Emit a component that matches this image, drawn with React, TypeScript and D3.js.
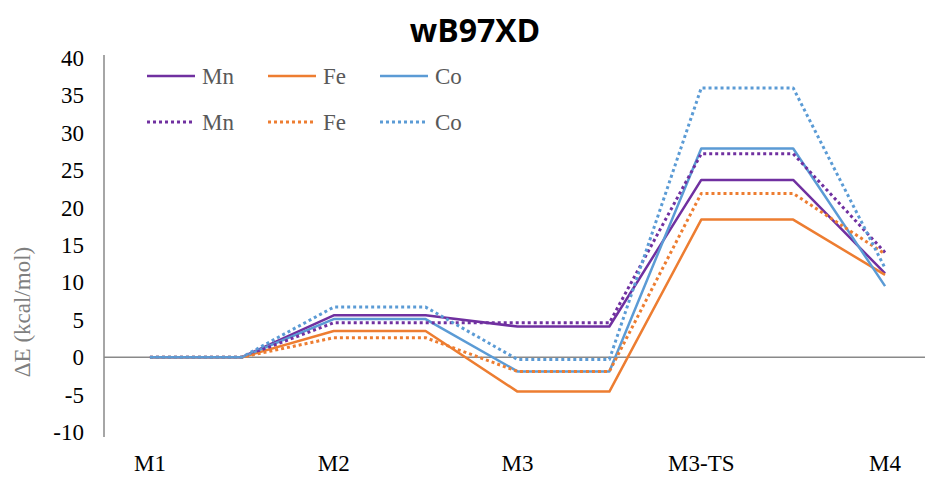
import React from "react";
import * as d3 from "d3";

// Energy profile: every state is a short plateau (two points), last state is a single point
const pointLabels = ["M1", "", "M2", "", "M3", "", "M3-TS", "", "M4"];

// Relative energies per state (kcal/mol): M1, M2, M3, M3-TS, M4
const mnSolid = [0, 5.6, 4.1, 23.7, 11.2];
const feSolid = [0, 3.5, -4.6, 18.4, 11.0];
const coSolid = [0, 5.1, -1.9, 27.9, 9.5];
const mnDotted = [0, 4.6, 4.6, 27.2, 14.0];
const feDotted = [0, 2.6, -1.9, 21.9, 13.8];
const coDotted = [0, 6.7, -0.3, 36.0, 11.9];

const yTicks = [-10, -5, 0, 5, 10, 15, 20, 25, 30, 35, 40];

const metals = ["Mn", "Fe", "Co"];
const colors: Record<string, string> = { Mn: "#7030A0", Fe: "#ED7D31", Co: "#5B9BD5" };

const series = [
  { name: "Mn", values: mnSolid, dotted: false },
  { name: "Fe", values: feSolid, dotted: false },
  { name: "Co", values: coSolid, dotted: false },
  { name: "Mn", values: mnDotted, dotted: true },
  { name: "Fe", values: feDotted, dotted: true },
  { name: "Co", values: coDotted, dotted: true },
];

// Expand state energies into plateau points (each state except the last is doubled)
function expand(v: number[]): number[] {
  const out: number[] = [];
  v.forEach((e, i) => {
    out.push(e);
    if (i < v.length - 1) out.push(e);
  });
  return out;
}

export default function App() {
  const W = 925;
  const H = 477;
  const left = 104;
  const plotRight = 931;
  const top = 58;
  const bottom = 432;

  const x = d3
    .scaleBand<number>()
    .domain(d3.range(pointLabels.length))
    .range([left, plotRight]);
  const xc = (i: number) => (x(i) as number) + x.bandwidth() / 2;
  const y = d3.scaleLinear().domain([-10, 40]).range([bottom, top]);

  const line = d3
    .line<number>()
    .x((_, i) => xc(i))
    .y((d) => y(d));

  const axisColor = "#898989";
  const textColor = "#595959";
  const serif = "'Liberation Serif', 'Times New Roman', serif";
  const fs = 23;

  const legendRows = [false, true];
  const legendX = [147, 268, 380];
  const legendY = [76, 122];

  return (
    <svg
      width={W}
      height={H}
      style={{ position: "absolute", left: 0, top: 0, background: "#fff" }}
    >
      <text
        x={475}
        y={42}
        textAnchor="middle"
        fontFamily="'Open Sans', 'Liberation Sans', sans-serif"
        fontWeight="bold"
        fontSize={32}
        fill="#000"
      >
        wB97XD
      </text>

      {/* y axis */}
      <line x1={left} x2={left} y1={55} y2={437} stroke={axisColor} strokeWidth={1.5} />
      {yTicks.map((t) => (
        <text
          key={t}
          x={84}
          y={y(t)}
          dy="0.35em"
          textAnchor="end"
          fontFamily={serif}
          fontSize={fs}
          fill="#000"
        >
          {t}
        </text>
      ))}
      <text
        transform={`translate(30, ${312}) rotate(-90)`}
        textAnchor="middle"
        fontFamily={serif}
        fontSize={fs}
        fill="#7f7f7f"
      >
        ΔE (kcal/mol)
      </text>

      {/* zero line */}
      <line x1={left} x2={W} y1={y(0)} y2={y(0)} stroke={axisColor} strokeWidth={1.5} />

      {/* category labels */}
      {pointLabels.map((l, i) =>
        l ? (
          <text
            key={i}
            x={xc(i)}
            y={471}
            textAnchor="middle"
            fontFamily={serif}
            fontSize={fs}
            fill="#000"
          >
            {l}
          </text>
        ) : null
      )}

      {/* profiles */}
      {series.map((s, k) => (
        <path
          key={k}
          d={line(expand(s.values)) || ""}
          fill="none"
          stroke={colors[s.name]}
          strokeWidth={s.dotted ? 3 : 2.5}
          strokeDasharray={s.dotted ? "3 3" : undefined}
          strokeLinejoin="round"
        />
      ))}

      {/* legend */}
      {legendRows.map((dotted, r) =>
        metals.map((m, c) => (
          <g key={`${r}-${c}`}>
            <line
              x1={legendX[c]}
              x2={legendX[c] + 48}
              y1={legendY[r]}
              y2={legendY[r]}
              stroke={colors[m]}
              strokeWidth={dotted ? 3 : 2.5}
              strokeDasharray={dotted ? "3 3" : undefined}
            />
            <text
              x={legendX[c] + 55}
              y={legendY[r]}
              dy="0.35em"
              fontFamily={serif}
              fontSize={fs}
              fill={textColor}
            >
              {m}
            </text>
          </g>
        ))
      )}
    </svg>
  );
}
